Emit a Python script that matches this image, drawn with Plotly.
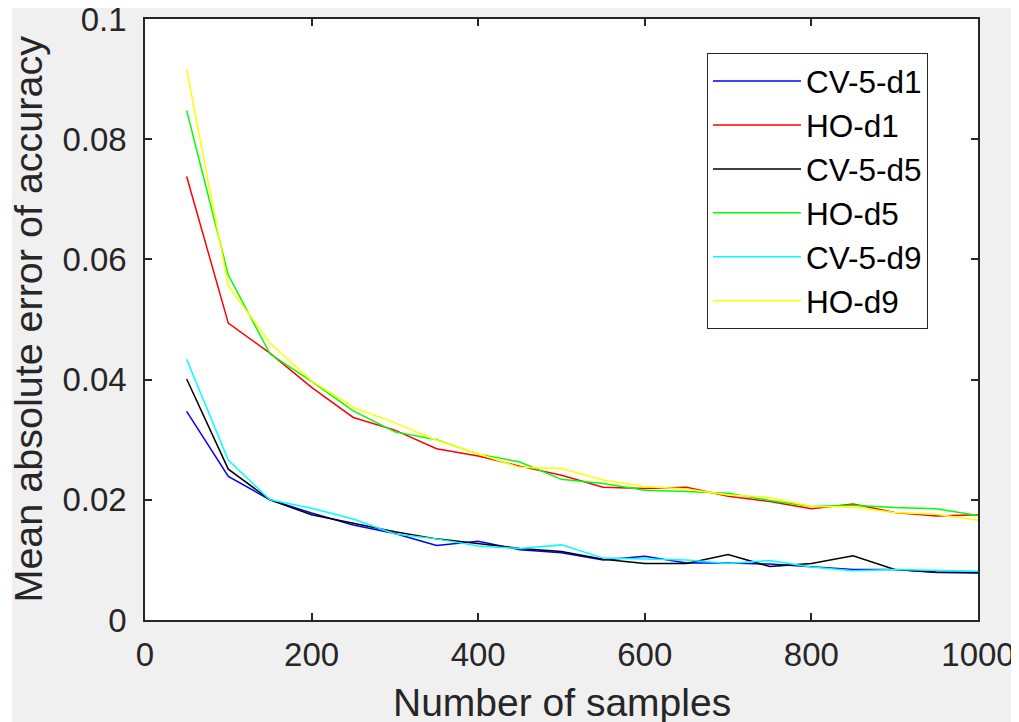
import plotly.graph_objects as go

samples = [50, 100, 150, 200, 250, 300, 350, 400, 450, 500,
           550, 600, 650, 700, 750, 800, 850, 900, 950, 1000]

cv5_d1 = [0.0347, 0.0239, 0.0200, 0.0178, 0.0158, 0.0144, 0.0124, 0.0131, 0.0117, 0.0112,
          0.0100, 0.0106, 0.0095, 0.0095, 0.0093, 0.0089, 0.0084, 0.0084, 0.0079, 0.0078]
ho_d1 = [0.0738, 0.0494, 0.0444, 0.0387, 0.0337, 0.0316, 0.0285, 0.0273, 0.0256, 0.0241,
         0.0221, 0.0219, 0.0221, 0.0206, 0.0197, 0.0185, 0.0193, 0.0179, 0.0173, 0.0175]
cv5_d5 = [0.0401, 0.0251, 0.0200, 0.0175, 0.0161, 0.0147, 0.0135, 0.0127, 0.0119, 0.0114,
          0.0101, 0.0094, 0.0094, 0.0109, 0.0089, 0.0094, 0.0107, 0.0084, 0.0080, 0.0079]
ho_d5 = [0.0848, 0.0574, 0.0443, 0.0397, 0.0348, 0.0313, 0.0300, 0.0276, 0.0263, 0.0234,
         0.0227, 0.0216, 0.0214, 0.0211, 0.0199, 0.0189, 0.0191, 0.0187, 0.0185, 0.0174]
cv5_d9 = [0.0434, 0.0266, 0.0200, 0.0186, 0.0168, 0.0143, 0.0135, 0.0123, 0.0119, 0.0125,
          0.0103, 0.0101, 0.0100, 0.0094, 0.0099, 0.0088, 0.0082, 0.0084, 0.0082, 0.0081]
ho_d9 = [0.0916, 0.0556, 0.0461, 0.0398, 0.0354, 0.0328, 0.0299, 0.0276, 0.0254, 0.0252,
         0.0233, 0.0222, 0.0218, 0.0208, 0.0204, 0.0189, 0.0188, 0.0179, 0.0176, 0.0166]

series_names = ["CV-5-d1", "HO-d1", "CV-5-d5", "HO-d5", "CV-5-d9", "HO-d9"]
series_values = [cv5_d1, ho_d1, cv5_d5, ho_d5, cv5_d9, ho_d9]
series_colors = ["#0000ff", "#ff0000", "#000000", "#00ff00", "#00ffff", "#ffff00"]

x_ticks = [0, 200, 400, 600, 800, 1000]
x_tick_labels = ["0", "200", "400", "600", "800", "1000"]
y_ticks = [0, 0.02, 0.04, 0.06, 0.08, 0.1]
y_tick_labels = ["0", "0.02", "0.04", "0.06", "0.08", "0.1"]

FONT = "Arial, Liberation Sans, sans-serif"
AXC = "#262626"
# the page body adds an 8px margin, so the figure is drawn 8px smaller and offset
OFF = 8
W, H = 1019 - OFF, 722 - OFF
L, T = 145 - OFF, 19 - OFF
R, B = W - (978 - OFF), H - (620 - OFF)
PW, PH = W - L - R, H - T - B


def px_x(page_x):
    return (page_x - OFF - L) / PW


def px_y(page_y):
    return (H - B - (page_y - OFF)) / PH


fig = go.Figure()
for name, vals, col in zip(series_names, series_values, series_colors):
    fig.add_trace(go.Scatter(x=samples, y=vals, mode="lines", name=name,
                             line=dict(color=col, width=1.5)))

fig.update_layout(
    width=W, height=H,
    margin=dict(l=L, r=R, t=T, b=B, autoexpand=False),
    paper_bgcolor="#f0f0f0", plot_bgcolor="#ffffff",
    font=dict(family=FONT, color=AXC),
    showlegend=True,
    legend=dict(x=px_x(707), y=px_y(53), xanchor="left", yanchor="top",
                bgcolor="#ffffff", bordercolor=AXC, borderwidth=1,
                font=dict(family=FONT, size=31.5, color="#000000"),
                itemwidth=88, tracegroupgap=0,
                entrywidth=140, entrywidthmode="pixels"),
)
axis_common = dict(showgrid=False, zeroline=False, showline=True, mirror="ticks",
                   linecolor=AXC, linewidth=1.5, ticks="inside", ticklen=7,
                   tickcolor=AXC, tickwidth=1.5, automargin=False,
                   ticklabeloverflow="allow",
                   tickfont=dict(family=FONT, size=33, color=AXC))
fig.update_xaxes(range=[0, 1000], tickvals=x_ticks, ticktext=x_tick_labels,
                 ticklabelstandoff=5, **axis_common)
fig.update_yaxes(range=[0, 0.1], tickvals=y_ticks, ticktext=y_tick_labels,
                 ticklabelstandoff=10, **axis_common)

# thin white edge strips seen in the reference image
fig.add_shape(type="rect", xref="paper", yref="paper", layer="below",
              x0=px_x(0), x1=px_x(12), y0=px_y(730), y1=px_y(0),
              fillcolor="#ffffff", line=dict(width=0))
fig.add_shape(type="rect", xref="paper", yref="paper", layer="below",
              x0=px_x(1017), x1=px_x(1030), y0=px_y(730), y1=px_y(0),
              fillcolor="#ffffff", line=dict(width=0))

fig.add_annotation(text="Number of samples", xref="paper", yref="paper",
                   x=0.5, y=px_y(703), xanchor="center", yanchor="middle",
                   showarrow=False, font=dict(family=FONT, size=39, color=AXC))
fig.add_annotation(text="Mean absolute error of accuracy", xref="paper", yref="paper",
                   x=px_x(27), y=0.5, xanchor="center", yanchor="middle",
                   textangle=-90, showarrow=False, font=dict(family=FONT, size=39.5, color=AXC))

fig.write_html("out.html")
